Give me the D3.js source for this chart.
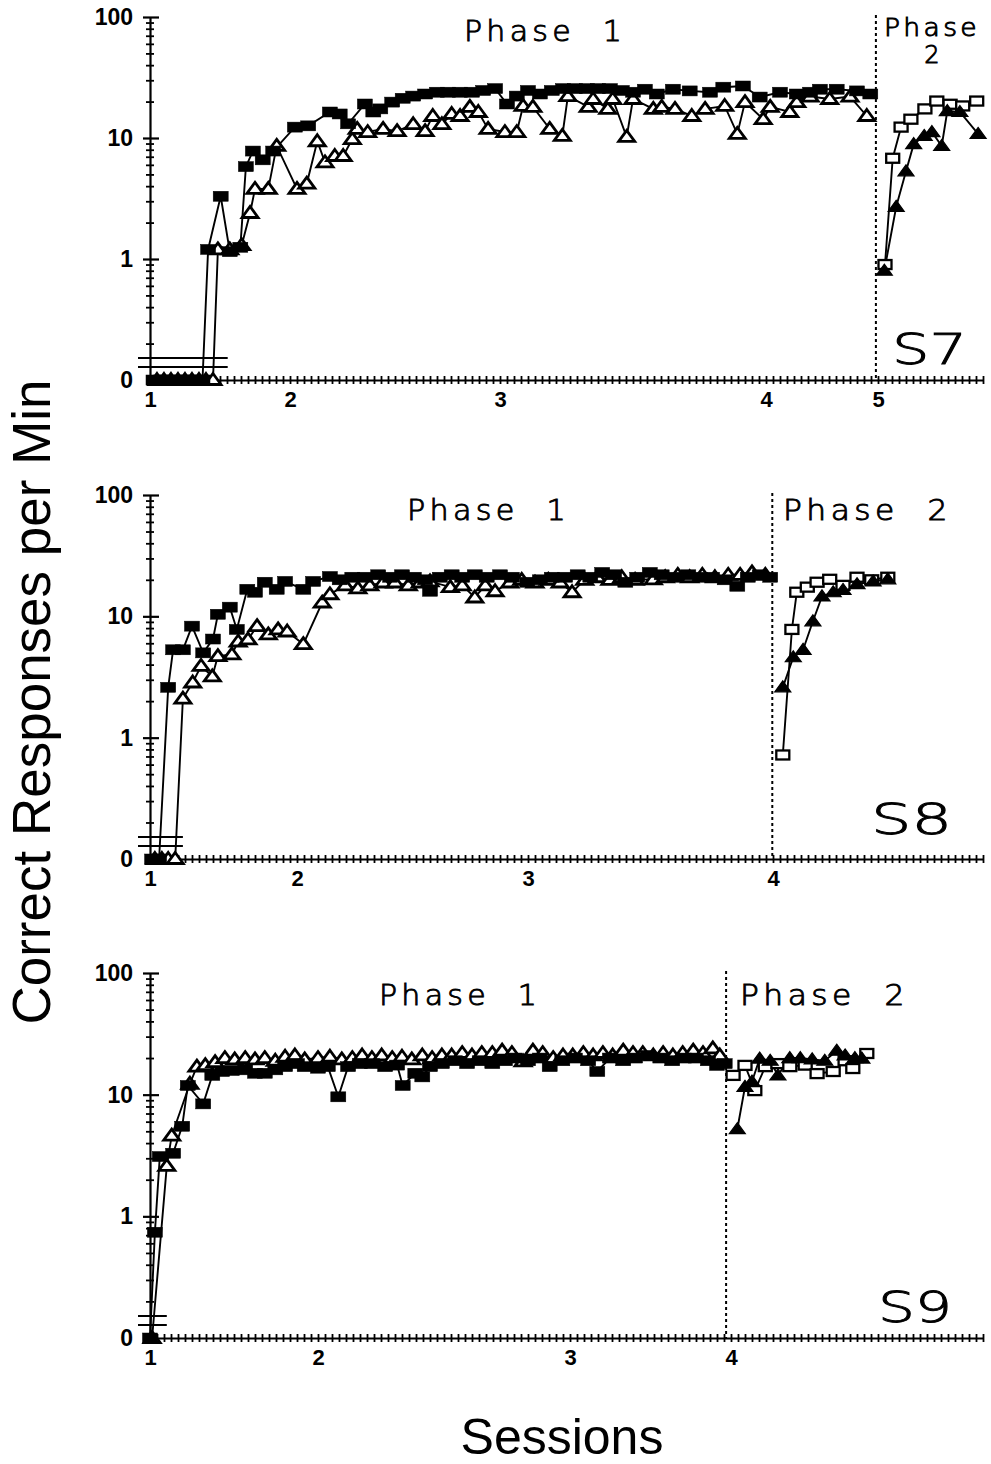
<!DOCTYPE html>
<html>
<head>
<meta charset="utf-8">
<script src="https://cdn.jsdelivr.net/npm/d3@7"></script>
<style>
  body { margin: 0; background: #fff; }
  svg { display: block; }
  .num { font-family: "Liberation Sans", Arial, sans-serif; font-weight: bold; font-size: 23px; fill: #000; }
  .xnum { font-family: "Liberation Sans", Arial, sans-serif; font-weight: bold; font-size: 22px; fill: #000; }
  .thin { font-family: "DejaVu Sans", sans-serif; font-weight: 200; fill: #000; stroke: #000; stroke-width: 0.9px; white-space: pre; }
  .title { font-family: "Liberation Sans", Arial, sans-serif; fill: #000; }
</style>
</head>
<body>
<svg id="chart" width="991" height="1464"></svg>
<script>
// ---------- Data: correct responses per minute by session ----------
// Session axis: one tick per session; labels mark the numbered blocks.
const subjects = ["S7", "S8", "S9"];
const blockTickSessions = [[0, 20, 50, 88, 104], [0, 21, 54, 89], [0, 24, 60, 83]];
const blockTickLabels = [["1", "2", "3", "4", "5"], ["1", "2", "3", "4"], ["1", "2", "3", "4"]];
const phase2StartSession = [103.7, 88.9, 82.3];
const lastZeroSession = [11.1, 4.7, 2.4];

// S7 — Phase 1
const s7Phase1SquareSessions = [0.5,1.5,2.5,3.5,4.5,5.5,6.5,7.5,8.3,10.1,11.4,12.9,13.7,14.7,16.1,17.6,20.7,22.6,25.7,27.1,28.3,30.7,31.9,32.9,34.6,36.1,37.6,39.3,41.0,42.6,44.3,46.0,47.6,49.3,51.0,52.4,54.0,55.7,57.4,59.0,60.7,62.4,64.0,65.7,67.4,69.0,70.7,72.4,74.7,77.1,80.0,81.9,84.7,87.1,90.0,92.4,94.3,95.7,98.1,101.0,102.9];
const s7Phase1SquareRates    = [0,0,0,0,0,0,0,0,1.2,3.3,1.15,1.25,5.8,7.8,6.6,7.8,12.3,12.6,16.4,15.8,13.1,19.1,16.4,17.4,19.8,21.3,22.2,23.1,23.9,23.9,23.9,23.9,24.7,25.6,19.1,22.2,24.7,23.1,24.7,25.6,25.6,25.6,25.6,25.6,24.7,23.9,25.3,23.1,25.3,24.5,23.9,26.3,26.9,21.8,23.9,23.1,23.9,25.3,25.3,24.5,23.1];
const s7Phase1TriangleSessions = [1,2,3,4,5,6,7,8,9,9.7,11.4,13.1,14.3,15.0,16.9,18.1,21.0,22.4,23.9,25.0,26.4,27.6,28.9,29.6,31.1,33.3,35.3,37.6,39.3,40.4,41.7,43.1,44.3,45.7,46.9,48.3,50.7,52.4,53.3,54.7,57.1,58.9,59.7,62.6,63.3,65.4,66.1,68.1,69.0,71.9,73.1,75.0,77.4,79.3,82.1,83.9,85.0,87.6,88.6,91.4,92.4,94.3,97.1,100.0,102.4];
const s7Phase1TriangleRates    = [0,0,0,0,0,0,0,0,0,1.2,1.2,1.3,2.4,3.8,3.8,8.6,3.8,4.2,9.4,6.3,7.1,7.1,9.8,11.9,11.2,11.9,11.4,13.0,11.4,15.2,13.0,15.8,15.2,18.1,16.4,11.9,11.2,11.2,18.4,18.1,11.9,10.4,22.2,18.1,21,17.4,21,10.2,21,17.4,18.1,17.4,15.2,17.4,18.4,10.8,19.8,14.3,18.1,16.4,19.8,22,21,22,15.2];
// S7 — Phase 2
const s7Phase2SquareSessions = [105.0,106.1,107.3,108.7,110.7,112.4,114.3,116.1,118.1];
const s7Phase2SquareRates    = [0.9,6.8,12.3,14.3,17.4,20.2,19,18.4,20.2];
const s7Phase2TriangleSessions = [104.9,106.6,108.0,109.1,110.6,111.7,113.1,113.9,115.7,118.3];
const s7Phase2TriangleRates    = [0.8,2.7,5.3,8.9,10.4,11.2,8.6,16.7,16.4,10.8];

// S8 — Phase 1
const s8Phase1SquareSessions = [0.3,1.3,2.6,3.3,4.7,6.0,7.6,9.0,9.7,11.4,12.4,13.9,15.0,16.4,18.1,19.3,21.9,23.3,25.7,27.1,28.9,30.7,32.6,34.3,36.0,37.7,39.3,40.0,41.4,43.1,44.6,46.4,48.1,50.0,51.7,53.9,55.7,57.4,59.3,61.1,62.9,64.6,66.3,67.9,69.6,71.4,73.1,75.0,76.9,78.6,80.3,82.1,83.9,85.4,87.1,88.6];
const s8Phase1SquareRates    = [0,0,2.6,5.3,5.3,8.3,5.0,6.5,10.4,11.9,7.8,16.7,15.8,19.1,16.7,19.4,16.7,19.4,21.3,20,21,21,22,21,22,21,20,16.1,21,22,21,22,21,22,21,19.1,20,21,21,22,21,23,22,19.1,21,23,22,21,22,21,21,20,17.7,21,22,21];
const s8Phase1TriangleSessions = [0.7,1.7,2.6,3.6,4.7,6.1,7.3,8.9,9.7,11.7,12.6,14.0,15.3,16.9,18.3,19.6,21.9,24.6,25.7,27.9,29.7,31.4,33.3,35.0,36.9,38.6,40.0,42.9,44.6,46.4,47.9,49.3,51.4,53.1,55.0,56.9,58.6,60.3,62.1,63.9,65.7,67.4,69.3,71.9,73.6,75.4,77.1,78.9,80.7,82.6,84.3,86.0,87.9];
const s8Phase1TriangleRates    = [0,0,0,0,2.1,2.85,3.9,3.2,4.7,4.85,6.2,6.45,8.3,7.1,7.8,7.5,5.9,13.0,15.2,18,17,18,19,19,18,19,19.4,17.4,18,14.3,18,16.1,19,20,19,20,19,15.8,20,21,20,21,20,20.2,21,22,21,22,21,22,22,23,22];
// S8 — Phase 2
const s8Phase2SquareSessions = [90.4,91.7,92.4,93.9,95.3,97.1,99.0,101.0,103.1,105.4];
const s8Phase2SquareRates    = [0.72,7.8,15.8,17.4,19.1,20.2,18,21,20,21];
const s8Phase2TriangleSessions = [90.4,91.9,93.3,94.7,96.0,97.6,99.0,101.0,103.3,105.4];
const s8Phase2TriangleRates    = [2.6,4.6,5.3,9.1,14.6,15.8,16.5,18.4,19.4,20.2];

// S9 — Phase 1
const s9Phase1SquareSessions = [0,0.7,1.4,3.3,4.6,5.4,7.6,8.9,10.3,11.7,13.6,15.0,16.4,17.9,19.3,21.0,22.1,24.0,25.4,26.9,28.3,30.0,31.7,33.6,35.3,36.1,37.9,38.9,40.0,41.7,43.6,45.3,47.1,48.9,50.7,52.1,54.0,55.7,57.1,58.9,60.7,62.6,63.9,65.7,67.6,69.3,71.1,72.9,74.6,76.3,78.0,79.7,81.0,82.1];
const s9Phase1SquareRates    = [0,0.74,3.1,3.3,5.5,11.9,8.4,14.4,15.5,15.8,16,15,15,16,17,18,17,16.5,17,9.6,17,18,18,17,17.5,11.9,15,14,17,18,19,18,19,18,19,20,19,20,17,19,20,19,15.5,20,19,20,21,20,19,20,20,19,17.4,18];
const s9Phase1TriangleSessions = [0.3,2.4,3.1,5.7,6.7,7.9,9.3,10.7,12.1,13.6,15.0,16.4,17.9,19.3,20.7,22.1,24.0,25.7,27.4,28.9,30.3,31.7,33.1,34.6,36.0,37.4,38.9,40.3,41.7,43.1,44.6,46.0,47.4,48.9,50.3,51.7,53.3,54.7,56.1,57.6,59.0,60.4,61.9,63.3,64.7,66.1,67.6,69.0,70.4,71.9,73.3,74.7,76.1,77.6,79.0,80.4,81.4];
const s9Phase1TriangleRates    = [0,2.6,4.6,12.3,17,17.5,18.5,20,19.5,20,19.5,20,19,20.5,21,19.5,20,20.5,19.5,20,21,20,21,20,20.5,19.5,21,20,21,21,22,21,22,22,23,22,18.8,23,22,20,21,21,22,21,22,21,23,22,22,21,22,21,22,23,22,24,21];
// S9 — Phase 2
const s9Phase2SquareSessions = [83.3,85.0,86.4,87.9,89.7,91.4,93.6,95.3,97.6,99.3,100.4,102.4];
const s9Phase2SquareRates    = [14.4,17.4,10.8,17,18,17,17.5,14.9,15.5,19,16.4,21.8];
const s9Phase2TriangleSessions = [83.9,85.0,86.0,87.1,88.6,89.7,91.4,92.9,94.6,96.4,98.1,99.3,100.7,101.7];
const s9Phase2TriangleRates    = [5.2,11.6,12.8,19.8,19,14.4,20,20,19.5,19,23,21,20,19.8];

const yMajor = [1, 10, 100];
const yMinor = [0.2,0.3,0.4,0.5,0.6,0.7,0.8,0.9,2,3,4,5,6,7,8,9,20,30,40,50,60,70,80,90];

// ---------- Layout ----------
const svg = d3.select("#chart");
const zip = (xs, ys) => xs.map((s, i) => [s, ys[i]]);

const panels = [
  {
    name: subjects[0], top: 17, bottom: 380,
    p1sq: zip(s7Phase1SquareSessions, s7Phase1SquareRates),
    p1tri: zip(s7Phase1TriangleSessions, s7Phase1TriangleRates),
    p2sq: zip(s7Phase2SquareSessions, s7Phase2SquareRates),
    p2tri: zip(s7Phase2TriangleSessions, s7Phase2TriangleRates),
    phase1: { x: 464, y: 41, len: 162 },
    phase2: { x: 884, y: 36, len: 96, split: true },
    tag: { x: 892, y: 364, len: 75 }
  },
  {
    name: subjects[1], top: 495, bottom: 859,
    p1sq: zip(s8Phase1SquareSessions, s8Phase1SquareRates),
    p1tri: zip(s8Phase1TriangleSessions, s8Phase1TriangleRates),
    p2sq: zip(s8Phase2SquareSessions, s8Phase2SquareRates),
    p2tri: zip(s8Phase2TriangleSessions, s8Phase2TriangleRates),
    phase1: { x: 407, y: 520, len: 163 },
    phase2: { x: 783, y: 520, len: 169 },
    tag: { x: 871, y: 834, len: 81 }
  },
  {
    name: subjects[2], top: 973, bottom: 1338,
    p1sq: zip(s9Phase1SquareSessions, s9Phase1SquareRates),
    p1tri: zip(s9Phase1TriangleSessions, s9Phase1TriangleRates),
    p2sq: zip(s9Phase2SquareSessions, s9Phase2SquareRates),
    p2tri: zip(s9Phase2TriangleSessions, s9Phase2TriangleRates),
    phase1: { x: 379, y: 1005, len: 162 },
    phase2: { x: 740, y: 1005, len: 169 },
    tag: { x: 878, y: 1322, len: 74 }
  }
];

const x = d3.scaleLinear().domain([0, 119]).range([150, 983]);

panels.forEach((p, i) => {
  const y = d3.scaleLog().domain([0.1, 100]).range([p.bottom, p.top]);
  const yv = v => y(v === 0 ? 0.1 : v);
  const g = svg.append("g");

  // Axis break marks above the zero level
  const breakGap = [22, 13];
  breakGap.forEach(off => {
    g.append("line")
      .attr("x1", x(0) - 12).attr("x2", x(lastZeroSession[i]))
      .attr("y1", p.bottom - off).attr("y2", p.bottom - off)
      .attr("stroke", "#000").attr("stroke-width", 2);
  });

  // Phase boundary
  g.append("line")
    .attr("x1", x(phase2StartSession[i])).attr("x2", x(phase2StartSession[i]))
    .attr("y1", p.top - 2).attr("y2", p.bottom)
    .attr("stroke", "#000").attr("stroke-width", 2)
    .attr("stroke-dasharray", "3,3");

  // X axis: one tick per session
  const xAxis = g.append("g")
    .attr("transform", `translate(0,${p.bottom})`)
    .call(d3.axisBottom(x).tickValues(d3.range(0, 120)).tickFormat("").tickSizeOuter(0));
  xAxis.select(".domain").attr("stroke-width", 2.2);
  xAxis.selectAll(".tick line").attr("y1", -4).attr("y2", 4).attr("stroke-width", 1.8);

  const xLab = g.append("g")
    .attr("transform", `translate(0,${p.bottom})`)
    .call(d3.axisBottom(x).tickValues(blockTickSessions[i])
      .tickFormat((d, j) => blockTickLabels[i][j]).tickSize(0).tickPadding(11));
  xLab.select(".domain").remove();
  xLab.selectAll("text").attr("class", "xnum").attr("font-family", null).attr("font-size", null);

  // Y axis: log scale, with the bottom level standing for zero
  const yTicks = [0.1].concat(yMinor, yMajor).sort((a, b) => a - b);
  const yAxis = g.append("g")
    .attr("transform", `translate(${x(0)},0)`)
    .call(d3.axisLeft(y).tickValues(yTicks)
      .tickFormat(v => v === 0.1 ? "0" : (yMajor.includes(v) ? String(v) : ""))
      .tickSizeOuter(0).tickSize(0).tickPadding(17));
  yAxis.select(".domain").attr("stroke-width", 2.2);
  yAxis.selectAll(".tick line")
    .attr("x1", v => v === 0.1 ? 0 : (yMajor.includes(v) ? -7 : -4))
    .attr("x2", v => v === 0.1 ? 0 : (yMajor.includes(v) ? 9 : 4))
    .attr("stroke-width", v => yMajor.includes(v) ? 2.2 : 1.8);
  yAxis.selectAll("text").attr("class", "num").attr("font-family", null).attr("font-size", null);
  yAxis.selectAll("path,line").attr("stroke", "#000");
  xAxis.selectAll("path,line").attr("stroke", "#000");

  // Series
  const line = d3.line().x(d => x(d[0])).y(d => yv(d[1]));
  const drawLine = data => g.append("path").datum(data)
    .attr("d", line).attr("fill", "none").attr("stroke", "#000").attr("stroke-width", 1.9);
  const triPath = d => {
    const cx = x(d[0]), cy = yv(d[1]);
    return `M${cx},${cy - 6.5}L${cx + 8},${cy + 4.5}L${cx - 8},${cy + 4.5}Z`;
  };
  const drawTriangles = (data, filled) => g.append("g").selectAll("path").data(data).join("path")
    .attr("d", triPath)
    .attr("fill", filled ? "#000" : "#fff")
    .attr("stroke", "#000").attr("stroke-width", filled ? 1.2 : 2.8).attr("stroke-linejoin", "miter");
  const drawSquares = (data, filled) => g.append("g").selectAll("rect").data(data).join("rect")
    .attr("x", d => x(d[0]) - (filled ? 7.5 : 6.5))
    .attr("y", d => yv(d[1]) - (filled ? 5 : 4.5))
    .attr("width", filled ? 15 : 13).attr("height", filled ? 10 : 9)
    .attr("fill", filled ? "#000" : "#fff")
    .attr("stroke", "#000").attr("stroke-width", filled ? 0.5 : 2.3);

  drawLine(p.p1tri);
  drawLine(p.p1sq);
  drawLine(p.p2sq);
  drawLine(p.p2tri);
  drawTriangles(p.p1tri, false);
  drawSquares(p.p1sq, true);
  drawSquares(p.p2sq, false);
  drawTriangles(p.p2tri, true);

  // Phase labels
  g.append("text").attr("class", "thin").attr("font-size", 28)
    .attr("letter-spacing", 4)
    .attr("x", p.phase1.x).attr("y", p.phase1.y)
    .attr("textLength", p.phase1.len).attr("lengthAdjust", "spacingAndGlyphs")
    .text("Phase  1");
  if (p.phase2.split) {
    g.append("text").attr("class", "thin").attr("font-size", 24)
      .attr("letter-spacing", 3)
      .attr("x", p.phase2.x).attr("y", p.phase2.y)
      .attr("textLength", p.phase2.len).attr("lengthAdjust", "spacingAndGlyphs")
      .text("Phase");
    g.append("text").attr("class", "thin").attr("font-size", 24)
      .attr("x", p.phase2.x + p.phase2.len / 2).attr("y", p.phase2.y + 27)
      .attr("text-anchor", "middle").text("2");
  } else {
    g.append("text").attr("class", "thin").attr("font-size", 28)
      .attr("letter-spacing", 4)
      .attr("x", p.phase2.x).attr("y", p.phase2.y)
      .attr("textLength", p.phase2.len).attr("lengthAdjust", "spacingAndGlyphs")
      .text("Phase  2");
  }

  // Subject tag
  g.append("text").attr("class", "thin").attr("font-size", 43)
    .attr("x", p.tag.x).attr("y", p.tag.y)
    .attr("textLength", p.tag.len).attr("lengthAdjust", "spacingAndGlyphs")
    .text(p.name);
});

// Axis titles
svg.append("text").attr("class", "title")
  .attr("transform", "translate(50,702) rotate(-90)")
  .attr("text-anchor", "middle").attr("font-size", 53)
  .text("Correct Responses per Min");
svg.append("text").attr("class", "title")
  .attr("x", 562).attr("y", 1454)
  .attr("text-anchor", "middle").attr("font-size", 50)
  .text("Sessions");
</script>
</body>
</html>
